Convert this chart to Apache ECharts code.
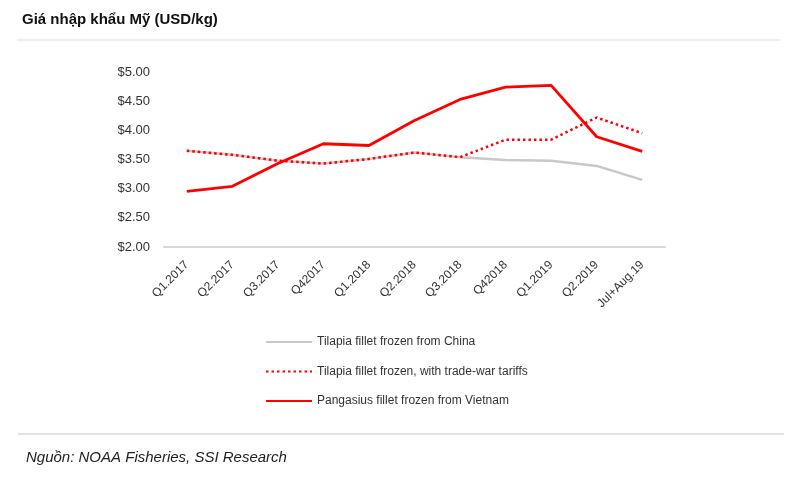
<!DOCTYPE html>
<html><head><meta charset="utf-8">
<script src="https://cdn.jsdelivr.net/npm/echarts@6/dist/echarts.min.js"></script>
<style>html,body{margin:0;padding:0;background:#fff}#c{width:794px;height:483px}</style>
</head><body><div id="c"></div>
<script>
const categories = ['Q1.2017','Q2.2017','Q3.2017','Q42017','Q1.2018','Q2.2018','Q3.2018','Q42018','Q1.2019','Q2.2019','Jul+Aug.19'];
const tilapiaChina = [3.65,3.58,3.48,3.43,3.51,3.62,3.54,3.49,3.48,3.39,3.15];
const tilapiaTariff = [3.65,3.58,3.48,3.43,3.51,3.62,3.54,3.84,3.84,4.22,3.95];
const pangasiusVN = [2.955,3.04,3.43,3.77,3.74,4.17,4.53,4.74,4.77,3.89,3.64];
const seriesNames = ['Tilapia fillet frozen from China','Tilapia fillet frozen, with trade-war tariffs','Pangasius fillet frozen from Vietnam'];
const titleText = 'Giá nhập khẩu Mỹ (USD/kg)';
const sourceText = 'Nguồn: NOAA Fisheries, SSI Research';

const FONT = '"Liberation Sans", Arial, sans-serif';
const chart = echarts.init(document.getElementById('c'), null, {renderer:'canvas'});
chart.setOption({
  animation:false,
  textStyle:{fontFamily:FONT},
  grid:{left:164, right:129, top:72, bottom:236, containLabel:false},
  xAxis:{type:'category', data:categories, boundaryGap:true,
    axisLine:{lineStyle:{color:'#d9d9d9', width:2}}, axisTick:{show:false},
    axisLabel:{rotate:45, color:'#333', fontSize:12, fontFamily:FONT, margin:16, interval:0}},
  yAxis:{type:'value', min:2, max:5, interval:0.5,
    axisLine:{show:false}, axisTick:{show:false}, splitLine:{show:false},
    axisLabel:{color:'#333', fontSize:13, fontFamily:FONT, margin:14,
      formatter:v=>'$'+v.toFixed(2)}},
  legend:{orient:'vertical', left:260, top:330, itemWidth:46, itemHeight:14, itemGap:15.5,
    itemStyle:{color:'transparent', borderWidth:0, opacity:0},
    textStyle:{color:'#333', fontSize:12, fontFamily:FONT, lineHeight:14},
    data:seriesNames},
  series:[
    {name:seriesNames[0], type:'line', data:tilapiaChina, symbol:'none',
      lineStyle:{color:'#c8c8c8', width:2.5}, itemStyle:{color:'#c8c8c8'}},
    {name:seriesNames[1], type:'line', data:tilapiaTariff, symbol:'none',
      lineStyle:{color:'#ff0000', width:2.5, type:[2.5,3]}, itemStyle:{color:'#ff0000'}},
    {name:seriesNames[2], type:'line', data:pangasiusVN, symbol:'none',
      lineStyle:{color:'#ff0000', width:2.8}, itemStyle:{color:'#ff0000'}}
  ],
  graphic:[
    {type:'text', left:22, top:12, style:{text:titleText, fill:'#111', font:'bold 15px '+FONT}},
    {type:'line', shape:{x1:17,y1:40,x2:780,y2:40}, style:{stroke:'#e6e6e6', lineWidth:1.5}},
    {type:'line', shape:{x1:18,y1:434,x2:784,y2:434}, style:{stroke:'#d9d9d9', lineWidth:1.5}},
    {type:'text', left:26, top:450, style:{text:sourceText, fill:'#222', font:'italic 15px '+FONT}}
  ]
});
</script></body></html>
